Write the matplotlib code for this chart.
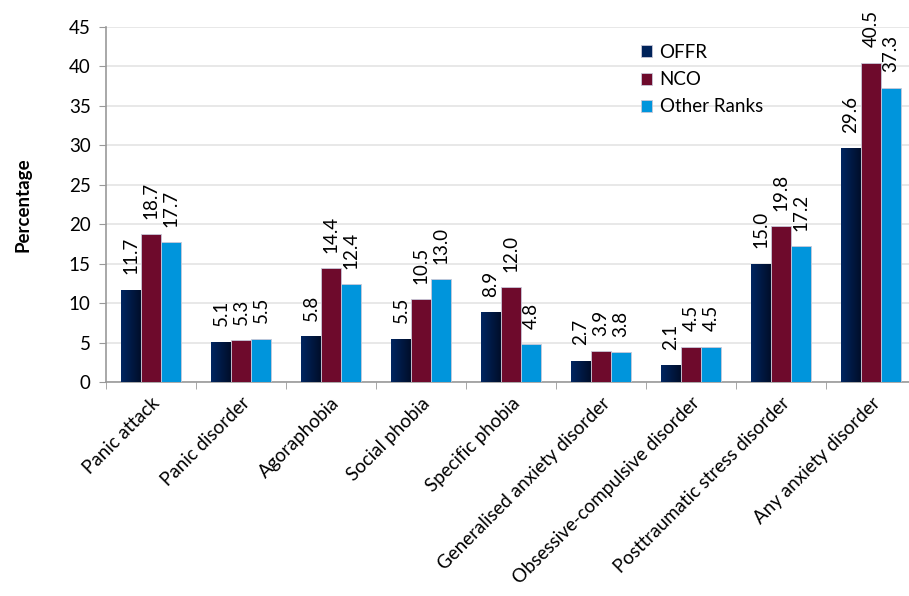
import numpy as np
import matplotlib
matplotlib.use('Agg')
import matplotlib.pyplot as plt
from matplotlib.colors import LinearSegmentedColormap

plt.rcParams['font.family'] = ['Lato', 'DejaVu Sans']

categories = ['Panic attack', 'Panic disorder', 'Agoraphobia', 'Social phobia',
              'Specific phobia', 'Generalised anxiety disorder',
              'Obsessive-compulsive disorder', 'Posttraumatic stress disorder',
              'Any anxiety disorder']
offr = [11.7, 5.1, 5.8, 5.5, 8.9, 2.7, 2.1, 15.0, 29.6]
nco = [18.7, 5.3, 14.4, 10.5, 12.0, 3.9, 4.5, 19.8, 40.5]
other = [17.7, 5.5, 12.4, 13.0, 4.8, 3.8, 4.5, 17.2, 37.3]
series_names = ['OFFR', 'NCO', 'Other Ranks']
colors = ['#00235a', '#6e0a2c', '#0095dc']
fs = 13.5

fig = plt.figure(figsize=(9.09, 5.96), dpi=100)
# axes runs a bit past the right edge, like the original
ax = fig.add_axes([106 / 909, 1 - 382 / 596, 810 / 909, (382 - 27) / 596])

x = np.arange(len(categories))
w = 0.222
grad = LinearSegmentedColormap.from_list('navy', ['#002560', '#000e2a'])
for i, (vals, name, col) in enumerate(zip([offr, nco, other], series_names, colors)):
    bars = ax.bar(x + (i - 1) * w, vals, w, color=col, label=name,
                  edgecolor='#c8c8d8', linewidth=0.6, zorder=3)
    if i == 0:
        for b in bars:
            im = ax.imshow(np.linspace(0, 1, 50).reshape(1, -1), cmap=grad,
                           extent=[b.get_x(), b.get_x() + b.get_width(), 0, b.get_height()],
                           aspect='auto', zorder=3.5)
            im.set_clip_path(b)
    for xi, v in zip(x + (i - 1) * w, vals):
        ax.annotate(f'{v:.1f}', (xi, v), xytext=(0, 11), textcoords='offset points',
                    rotation=90, ha='center', va='bottom', fontsize=fs)

ax.set_xlim(-0.5, len(categories) - 0.5)
ax.set_ylim(0, 45)
ax.set_yticks(range(0, 46, 5))
ax.set_xticks(np.arange(-0.5, len(categories) - 0.5, 1), minor=True)
ax.set_xticks(x)
ax.set_xticklabels(categories, rotation=45, ha='right', rotation_mode='anchor',
                   fontsize=fs)
ax.tick_params(axis='x', which='major', length=0, pad=9)
ax.tick_params(axis='x', which='minor', length=5, color='#999999')
ax.tick_params(axis='y', length=5, color='#999999', labelsize=fs, pad=6)
ax.yaxis.grid(True, color='#e4e4e4', linewidth=1.2, zorder=0)
ax.set_axisbelow(True)
for s in ['top', 'right']:
    ax.spines[s].set_visible(False)
for s in ['left', 'bottom']:
    ax.spines[s].set_color('#999999')
    ax.spines[s].set_linewidth(1.2)
ax.set_ylabel('Percentage', fontsize=13.5, fontweight='bold', labelpad=27)

ax.legend(loc='upper left', bbox_to_anchor=(518 / 810, 1.0), frameon=False,
          fontsize=fs, handlelength=0.6, handleheight=0.6, handletextpad=0.4,
          labelspacing=0.55)

fig.savefig('out.png', dpi=100)
